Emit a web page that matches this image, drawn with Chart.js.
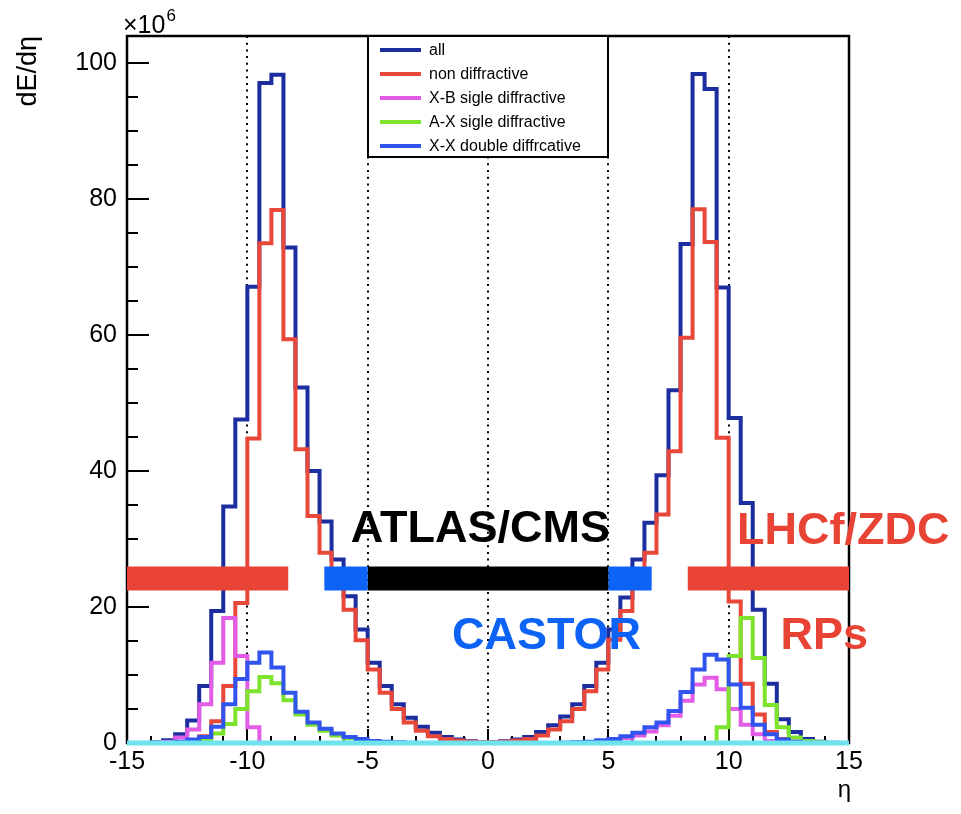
<!DOCTYPE html>
<html>
<head>
<meta charset="utf-8">
<title>dE/dη</title>
<script src="https://cdn.jsdelivr.net/npm/chart.js@4.4.0/dist/chart.umd.min.js"></script>
<style>
  body { margin: 0; background: #fff; }
  #contenedor { width: 961px; height: 814px; }
</style>
</head>
<body>
<div id="contenedor"><canvas id="grafico" width="961" height="814"></canvas></div>
<script>
// Binning en eta: 60 bins de 0.5 entre -15 y 15
var etaMin = -15;
var etaMax = 15;
var anchoBin = 0.5;

// dE/deta por bin (x10^6)
var todos = [
  0, 0, 0.1, 0.4, 1.3, 3.3, 8.4, 19.4, 34.8, 47.6,
  67.1, 97.1, 98.3, 72.9, 52.3, 40.0, 32.6, 27.0, 21.6, 16.7,
  11.8, 8.4, 5.7, 3.7, 2.4, 1.5, 0.9, 0.5, 0.25, 0.1,
  0.1, 0.25, 0.5, 0.9, 1.6, 2.6, 3.9, 5.7, 8.4, 11.8,
  16.7, 21.4, 27.0, 32.4, 39.4, 51.9, 73.4, 98.4, 96.2, 67.0,
  47.8, 35.3, 19.6, 8.7, 3.5, 1.6, 0.6, 0.2, 0.05, 0
];
var noDifractivo = [
  0, 0, 0, 0, 0.1, 0.3, 1.0, 3.2, 8.4, 20.6,
  44.8, 73.5, 78.4, 59.4, 43.2, 33.4, 28.0, 23.5, 19.6, 15.1,
  10.8, 7.4, 5.0, 3.0, 1.8, 1.0, 0.6, 0.35, 0.2, 0.1,
  0.1, 0.2, 0.35, 0.6, 1.1, 2.0, 3.2, 5.0, 7.6, 10.8,
  15.2, 19.4, 23.5, 28.0, 33.6, 42.9, 59.6, 78.5, 73.7, 44.9,
  20.8, 8.7, 4.2, 1.6, 0.6, 0.2, 0.1, 0, 0, 0
];
var simpleXB = [
  0, 0, 0.05, 0.2, 0.8, 2.0, 5.7, 11.8, 18.4, 12.8,
  2.3, 0, 0, 0, 0, 0, 0, 0, 0, 0,
  0, 0, 0, 0, 0, 0, 0, 0, 0, 0,
  0, 0, 0, 0, 0, 0, 0.05, 0.1, 0.1, 0.2,
  0.4, 0.7, 1.1, 1.7, 2.6, 4.0, 6.2, 8.6, 9.6, 7.9,
  5.0, 2.7, 1.3, 0.3, 0.1, 0, 0, 0, 0, 0
];
var simpleAX = [
  0, 0, 0, 0, 0, 0.1, 0.5, 1.4, 2.8, 5.0,
  7.6, 9.7, 8.8, 6.3, 4.2, 2.7, 1.8, 1.1, 0.7, 0.4,
  0.2, 0.1, 0.05, 0, 0, 0, 0, 0, 0, 0,
  0, 0, 0, 0, 0, 0, 0, 0, 0, 0,
  0, 0, 0, 0, 0, 0, 0, 0, 0, 2.3,
  12.8, 18.4, 12.5, 5.6, 2.3, 0.8, 0.3, 0.1, 0, 0
];
var dobleXX = [
  0, 0, 0, 0.05, 0.2, 0.5, 0.9, 2.4, 5.7, 9.4,
  11.8, 13.3, 11.1, 7.4, 4.6, 3.0, 2.1, 1.4, 0.9, 0.6,
  0.3, 0.2, 0.1, 0.05, 0, 0, 0, 0, 0, 0,
  0, 0, 0, 0, 0, 0, 0.05, 0.1, 0.2, 0.4,
  0.6, 1.0, 1.5, 2.3, 3.0, 4.7, 7.5, 10.8, 13.0, 12.3,
  8.6, 5.2, 2.7, 1.3, 0.5, 0.2, 0.05, 0, 0, 0
];
var elastico = [
  0, 0, 0, 0, 0, 0, 0, 0, 0, 0,
  0, 0, 0, 0, 0, 0, 0, 0, 0, 0,
  0, 0, 0, 0, 0, 0, 0, 0, 0, 0,
  0, 0, 0, 0, 0, 0, 0, 0, 0, 0,
  0, 0, 0, 0, 0, 0, 0, 0, 0, 0,
  0, 0, 0, 0, 0, 0, 0, 0, 0, 0
];

var nombresSeries = ['all', 'non diffractive', 'X-B sigle diffractive', 'A-X sigle diffractive', 'X-X double diffrcative'];
var coloresSeries = ['#1b2d9f', '#e8473a', '#e35ce6', '#7ee32c', '#3154ee'];

// Cobertura de los detectores en eta
var detectores = ['LHCf/ZDC', 'CASTOR', 'ATLAS/CMS', 'CASTOR', 'LHCf/ZDC'];
var detInicio = [-15, -6.8, -5, 5, 8.3];
var detFin = [-8.3, -5, 5, 6.8, 15];
var detNivel = 24.2;

var ticksX = [-15, -10, -5, 0, 5, 10, 15];
var ticksY = [0, 20, 40, 60, 80, 100];
var lineasGuia = [-10, -5, 0, 5, 10];

var colorDetector = { 'LHCf/ZDC': '#e84335', 'CASTOR': '#0c63f6', 'ATLAS/CMS': '#000000' };

// Rotulos de los detectores (posicion en eta / dE/deta del borde izquierdo y la linea base)
var rotulos = [
  { texto: 'ATLAS/CMS', eta: -5.7, y: 29.6, color: '#000000' },
  { texto: 'CASTOR', eta: -1.5, y: 13.8, color: '#0c63f6' },
  { texto: 'LHCf/ZDC', eta: 10.35, y: 29.3, color: '#e84335' },
  { texto: 'RPs', eta: 12.15, y: 13.8, color: '#e84335' }
];

var fuente = "'Liberation Sans', Arial, Helvetica, sans-serif";
var myChart;

function puntosHistograma(valores) {
  var puntos = [];
  for (var i = 0; i < valores.length; i++) {
    puntos.push({ x: etaMin + i * anchoBin, y: valores[i] });
  }
  puntos.push({ x: etaMax, y: valores[valores.length - 1] });
  return puntos;
}

function serie(valores, color, orden, ancho) {
  return {
    data: puntosHistograma(valores),
    borderColor: color,
    borderWidth: ancho,
    stepped: 'before',
    pointRadius: 0,
    fill: false,
    borderJoinStyle: 'miter',
    borderCapStyle: 'butt',
    clip: 4,
    order: orden
  };
}

// Marco, ticks hacia dentro, lineas punteadas, leyenda y textos
var marco = {
  id: 'marco',
  beforeDatasetsDraw: function (chart) {
    var ctx = chart.ctx;
    var a = chart.chartArea;
    var sx = chart.scales.x;
    var sy = chart.scales.y;
    ctx.save();

    ctx.strokeStyle = '#000';
    ctx.lineWidth = 2;
    ctx.setLineDash([2, 4.7]);
    lineasGuia.forEach(function (eta) {
      var px = Math.round(sx.getPixelForValue(eta));
      ctx.beginPath();
      ctx.moveTo(px, a.top);
      ctx.lineTo(px, a.bottom);
      ctx.stroke();
    });
    ctx.setLineDash([]);

    ctx.lineWidth = 2.5;
    ctx.strokeRect(a.left, a.top, a.right - a.left, a.bottom - a.top);

    // ticks del eje y
    ctx.lineWidth = 2;
    for (var v = 0; v <= 104; v += 5) {
      var py = Math.round(sy.getPixelForValue(v));
      var largo = (v % 20 === 0) ? 22 : 11;
      ctx.beginPath();
      ctx.moveTo(a.left, py);
      ctx.lineTo(a.left + largo, py);
      ctx.stroke();
    }
    // ticks del eje x
    for (var e = etaMin; e <= etaMax; e += 1) {
      var px2 = Math.round(sx.getPixelForValue(e));
      var largo2 = (e % 5 === 0) ? 14 : 7;
      ctx.beginPath();
      ctx.moveTo(px2, a.bottom);
      ctx.lineTo(px2, a.bottom - largo2);
      ctx.stroke();
    }
    ctx.restore();
  },
  afterDatasetsDraw: function (chart) {
    var ctx = chart.ctx;
    var a = chart.chartArea;
    var sx = chart.scales.x;
    var sy = chart.scales.y;
    ctx.save();

    // leyenda
    var x0 = Math.round(sx.getPixelForValue(-5));
    var x1 = Math.round(sx.getPixelForValue(5));
    var alto = 121;
    ctx.fillStyle = '#fff';
    ctx.fillRect(x0, a.top, x1 - x0, alto);
    ctx.strokeStyle = '#000';
    ctx.lineWidth = 2;
    ctx.strokeRect(x0, a.top, x1 - x0, alto);
    ctx.font = '16px ' + fuente;
    ctx.textBaseline = 'middle';
    ctx.textAlign = 'left';
    nombresSeries.forEach(function (nombre, i) {
      var yy = a.top + 14 + i * 24;
      ctx.strokeStyle = coloresSeries[i];
      ctx.lineWidth = 4;
      ctx.beginPath();
      ctx.moveTo(x0 + 12, yy);
      ctx.lineTo(x0 + 53, yy);
      ctx.stroke();
      ctx.fillStyle = '#000';
      ctx.fillText(nombre, x0 + 61, yy + 1);
    });

    // rotulos de detectores
    ctx.font = 'bold 45px ' + fuente;
    ctx.textBaseline = 'alphabetic';
    rotulos.forEach(function (r) {
      ctx.fillStyle = r.color;
      ctx.fillText(r.texto, sx.getPixelForValue(r.eta), sy.getPixelForValue(r.y));
    });

    // titulos de ejes
    ctx.fillStyle = '#000';
    ctx.font = '24px ' + fuente;
    ctx.textAlign = 'right';
    ctx.fillText('η', a.right + 2, 797);

    ctx.font = '25px ' + fuente;
    ctx.textAlign = 'left';
    ctx.fillText('×10', a.left - 4, 33);
    var w = ctx.measureText('×10').width;
    ctx.font = '17px ' + fuente;
    ctx.fillText('6', a.left - 3 + w, 21);

    ctx.translate(36, a.top);
    ctx.rotate(-Math.PI / 2);
    ctx.font = '27px ' + fuente;
    ctx.textAlign = 'right';
    ctx.fillText('dE/dη', 0, 0);
    ctx.restore();
  }
};

function crearGrafico() {
  var ctx = document.getElementById('grafico').getContext('2d');

  var datasets = [
    serie(todos, coloresSeries[0], 7, 4),
    serie(noDifractivo, coloresSeries[1], 6, 4),
    serie(simpleXB, coloresSeries[2], 5, 4),
    serie(simpleAX, coloresSeries[3], 4, 4),
    serie(dobleXX, coloresSeries[4], 3, 4),
    serie(elastico, '#6fe2f0', 2, 5)
  ];

  // barras de cobertura de cada detector
  for (var i = 0; i < detectores.length; i++) {
    datasets.push({
      data: [{ x: detInicio[i], y: detNivel }, { x: detFin[i], y: detNivel }],
      borderColor: colorDetector[detectores[i]],
      borderWidth: 24,
      borderCapStyle: 'butt',
      pointRadius: 0,
      fill: false,
      order: 0
    });
  }

  Chart.defaults.font.family = fuente;
  Chart.defaults.color = '#000';

  myChart = new Chart(ctx, {
    type: 'line',
    data: { datasets: datasets },
    options: {
      responsive: false,
      animation: false,
      events: [],
      layout: { padding: { left: 0, right: 112, top: 36, bottom: 0 } },
      plugins: {
        legend: { display: false },
        tooltip: { enabled: false }
      },
      scales: {
        x: {
          type: 'linear',
          min: etaMin,
          max: etaMax,
          grid: { display: false, drawTicks: false },
          border: { display: false },
          ticks: { font: { size: 25 }, color: '#000', padding: 4, maxRotation: 0, autoSkip: false },
          afterBuildTicks: function (s) {
            s.ticks = ticksX.map(function (v) { return { value: v }; });
          },
          afterFit: function (s) { s.height = 71; }
        },
        y: {
          type: 'linear',
          min: 0,
          max: 104,
          grid: { display: false, drawTicks: false },
          border: { display: false },
          ticks: { font: { size: 25 }, color: '#000', padding: 10, includeBounds: false },
          afterBuildTicks: function (s) {
            s.ticks = ticksY.map(function (v) { return { value: v }; });
          },
          afterFit: function (s) { s.width = 127; }
        }
      }
    },
    plugins: [marco]
  });
}

crearGrafico();
</script>
</body>
</html>
